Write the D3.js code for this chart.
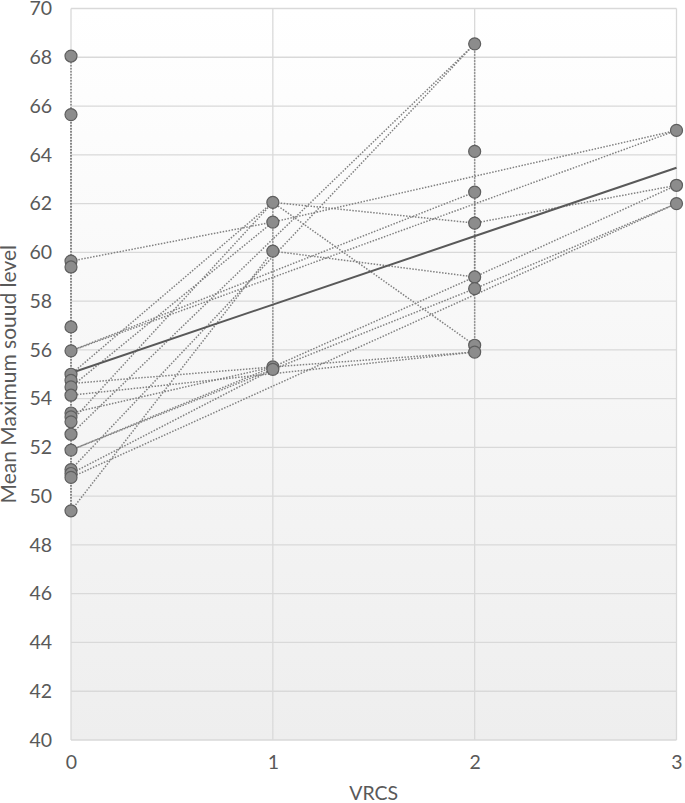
<!DOCTYPE html>
<html>
<head>
<meta charset="utf-8">
<script src="https://cdn.jsdelivr.net/npm/d3@7"></script>
<style>
  html, body { margin: 0; padding: 0; background: #ffffff; }
  svg { display: block; }
  text { font-family: Lato, "Open Sans", sans-serif; fill: #595959; }
</style>
</head>
<body>
<div id="chart"></div>
<script>
// ---------- data ----------
const xTicks = [0, 1, 2, 3];
const yTicks = [40, 42, 44, 46, 48, 50, 52, 54, 56, 58, 60, 62, 64, 66, 68, 70];
const xTitle = "VRCS";
const yTitle = "Mean Maximum souud level";

// observed points per VRCS column
const col0 = [68.05, 65.65, 59.64, 59.4, 56.94, 55.96, 55.0, 54.75, 54.48, 54.14, 53.41, 53.25, 53.05, 52.54, 51.89, 51.09, 50.93, 50.77, 49.40];
const col1 = [62.05, 61.24, 60.05, 55.3, 55.2];
const col2 = [68.55, 64.14, 62.47, 61.2, 58.99, 58.51, 56.19, 55.91];
const col3 = [65.0, 62.75, 62.0];

// dotted connections (each an [x, y] sequence)
const paths = [
  [[0, 68.05], [0, 49.40]],
  [[0, 65.65], [0, 49.40]],
  [[1, 62.05], [1, 55.2]],
  [[2, 68.55], [2, 55.91]],
  [[2, 62.47], [2, 58.51]],
  [[0, 59.64], [1, 61.24], [3, 65.0]],
  [[0, 55.96], [3, 65.0]],
  [[0, 55.96], [2, 62.47]],
  [[0, 50.77], [3, 62.0]],
  [[0, 51.89], [1, 55.3], [2, 58.99], [3, 62.75]],
  [[0, 51.89], [1, 55.2], [2, 58.51], [3, 62.0]],
  [[0, 54.48], [1, 61.24]],
  [[0, 55.0], [1, 62.05], [2, 61.2], [3, 62.75]],
  [[0, 54.62], [1, 55.3]],
  [[0, 53.41], [1, 55.3], [2, 55.91]],
  [[0, 49.40], [1, 60.05], [2, 58.99]],
  [[0, 52.54], [2, 68.55]],
  [[0, 51.09], [2, 68.55]],
  [[0, 54.14], [2, 55.91]],
  [[0, 53.05], [1, 62.05], [2, 56.19]],
  [[0, 50.93], [1, 55.2]]
];

// fitted trend line
const trend = [[0, 55.05], [3, 63.47]];

// ---------- layout ----------
const W = 685, H = 803;
const m = { left: 71, right: 8.5, top: 8.5, bottom: 63 };

const svg = d3.select("#chart").append("svg")
  .attr("width", W).attr("height", H);

const x = d3.scaleLinear().domain([0, 3]).range([m.left, W - m.right]);
const y = d3.scaleLinear().domain([40, 70]).range([H - m.bottom, m.top]);

// background gradient
const defs = svg.append("defs");
const grad = defs.append("linearGradient").attr("id", "bg")
  .attr("x1", 0).attr("y1", 0).attr("x2", 0).attr("y2", 1);
grad.append("stop").attr("offset", "0%").attr("stop-color", "#ffffff");
grad.append("stop").attr("offset", "100%").attr("stop-color", "#eeeeee");

svg.append("rect")
  .attr("x", x(0)).attr("y", y(70))
  .attr("width", x(3) - x(0)).attr("height", y(40) - y(70))
  .attr("fill", "url(#bg)");

// gridlines
const grid = svg.append("g");
grid.selectAll("line.h").data(yTicks).enter().append("line")
  .attr("x1", x(0)).attr("x2", x(3))
  .attr("y1", d => y(d)).attr("y2", d => y(d))
  .attr("stroke", "#d9d9d9").attr("stroke-width", 1.3);
grid.selectAll("line.v").data(xTicks).enter().append("line")
  .attr("y1", y(40)).attr("y2", y(70))
  .attr("x1", d => x(d)).attr("x2", d => x(d))
  .attr("stroke", "#d9d9d9").attr("stroke-width", 1.3);

// axes (labels only)
const yAxis = d3.axisLeft(y).tickValues(yTicks).tickSize(0).tickPadding(19);
const gy = svg.append("g").attr("transform", `translate(${x(0)},0)`).call(yAxis);
gy.select(".domain").remove();
gy.selectAll("text").style("font-size", "19.5px").attr("fill", "#595959")
  .style("font-family", "Lato, 'Open Sans', sans-serif");

const xAxis = d3.axisBottom(x).tickValues(xTicks).tickSize(0).tickPadding(15).tickFormat(d3.format("d"));
const gx = svg.append("g").attr("transform", `translate(0,${y(40)})`).call(xAxis);
gx.select(".domain").remove();
gx.selectAll("text").style("font-size", "19.5px").attr("fill", "#595959")
  .style("font-family", "Lato, 'Open Sans', sans-serif");

// axis titles
svg.append("text")
  .attr("x", (x(0) + x(3)) / 2).attr("y", 800)
  .attr("text-anchor", "middle")
  .style("font-size", "19.5px")
  .text(xTitle);

svg.append("text")
  .attr("transform", `translate(16,${(y(40) + y(70)) / 2}) rotate(-90)`)
  .attr("text-anchor", "middle")
  .style("font-size", "21px")
  .text(yTitle);

// dotted connections
const line = d3.line().x(d => x(d[0])).y(d => y(d[1]));
svg.append("g").selectAll("path").data(paths).enter().append("path")
  .attr("d", line)
  .attr("fill", "none")
  .attr("stroke", "#808080")
  .attr("stroke-width", 1.5)
  .attr("stroke-dasharray", "1.5,1.5")
  .attr("stroke-dashoffset", (d, i) => (i % 2) * 1.5);

// trend line
svg.append("path")
  .attr("d", line(trend))
  .attr("fill", "none")
  .attr("stroke", "#595959")
  .attr("stroke-width", 2);

// markers
const pts = [].concat(
  col0.map(v => [0, v]),
  col1.map(v => [1, v]),
  col2.map(v => [2, v]),
  col3.map(v => [3, v])
);
svg.append("g").selectAll("circle").data(pts).enter().append("circle")
  .attr("cx", d => x(d[0])).attr("cy", d => y(d[1]))
  .attr("r", 6)
  .attr("fill", "#8c8c8c")
  .attr("stroke", "#5e5e5e")
  .attr("stroke-width", 1.2);
</script>
</body>
</html>
